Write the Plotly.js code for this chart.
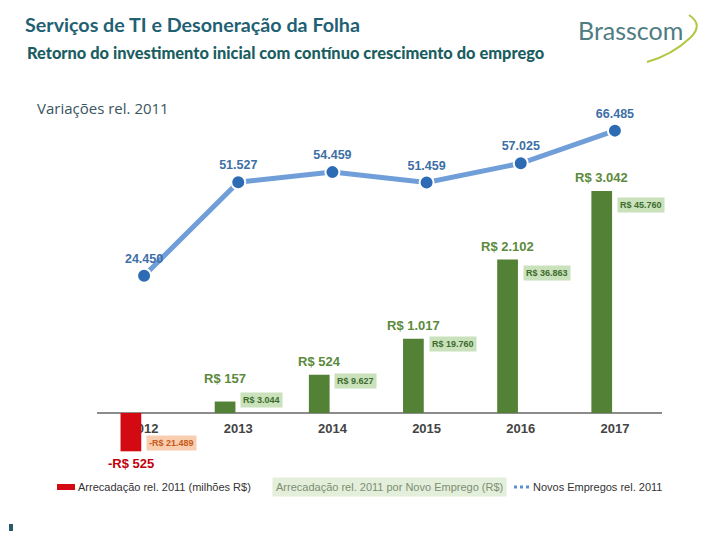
<!DOCTYPE html>
<html><head><meta charset="utf-8">
<script src="https://cdn.plot.ly/plotly-3.0.1.min.js"></script>
<style>html,body{margin:0;padding:0;background:#fff}#c{width:720px;height:540px}</style>
</head><body><div id="c"></div>
<script>
const years = ['2012','2013','2014','2015','2016','2017'];
const revenue = [-525, 157, 524, 1017, 2102, 3042];          // Arrecadação rel. 2011 (milhões R$)
const perJob = [-21489, 3044, 9627, 19760, 36863, 45760];    // Arrecadação por Novo Emprego (R$)
const jobs = [24450, 51527, 54459, 51459, 57025, 66485];     // Novos Empregos rel. 2011

const fmt = v => (v < 0 ? '-' : '') + String(Math.abs(v)).replace(/\B(?=(\d{3})+(?!\d))/g, '.');

// plot area geometry (pixels) for paper conversions
const L = 97, R = 662, T = 110, B = 470;
const px = x => (x - L) / (R - L);
const py = y => (B - y) / (B - T);

const barColors = revenue.map(v => v < 0 ? '#d40a12' : '#538135');

const traces = [
  {
    type: 'bar', x: years, y: revenue, width: 0.22, offset: -0.25,
    marker: {color: barColors}, yaxis: 'y', hoverinfo: 'skip', showlegend: false
  },
  {
    type: 'scatter', mode: 'lines+markers+text', x: years, y: jobs, yaxis: 'y2',
    text: jobs.map(fmt), textposition: 'top center',
    textfont: {family: 'Liberation Sans, Arial, sans-serif', size: 12.5, color: '#3d6fa6', weight: 'bold'},
    line: {color: '#6f9ed8', width: 5},
    marker: {color: '#2d6cb4', size: 14, line: {color: '#ffffff', width: 2}},
    hoverinfo: 'skip', showlegend: false, cliponaxis: false
  }
];

const annotations = [];
const barShiftY = [0, 14, 4, 4, 4, 4];
revenue.forEach((v, i) => {
  annotations.push({
    x: i, y: v, xref: 'x', yref: 'y', xshift: -13,
    yanchor: v < 0 ? 'top' : 'bottom', yshift: v < 0 ? -3 : barShiftY[i],
    text: (v < 0 ? '-R$ ' : 'R$ ') + fmt(Math.abs(v)), showarrow: false,
    font: {family: 'Liberation Sans, Arial, sans-serif', size: 13, weight: 'bold', color: v < 0 ? '#c0000a' : '#5c8a3c'}
  });
});
const badgeShiftY = [8, 2, -6, -5, -13, -14];
perJob.forEach((v, i) => {
  const neg = v < 0;
  annotations.push({
    x: i, y: revenue[i], xref: 'x', yref: 'y', xanchor: 'left', xshift: 2,
    yanchor: 'middle', yshift: badgeShiftY[i],
    text: (neg ? '-R$ ' : 'R$ ') + fmt(Math.abs(v)), showarrow: false,
    bgcolor: neg ? '#f9cdb0' : '#c9e2bb', borderpad: 2,
    font: {family: 'Liberation Sans, Arial, sans-serif', size: 9, weight: 'bold', color: neg ? '#c65a1a' : '#3e6b2e'}
  });
});

// headings
annotations.push(
  {xref: 'paper', yref: 'paper', x: px(25), y: py(53), xanchor: 'left', yanchor: 'middle', showarrow: false,
   text: 'Retorno do investimento inicial com contínuo crescimento do emprego',
   font: {family: 'Lato, sans-serif', size: 16.4, weight: 900, color: '#1b5e62'}},
  {xref: 'paper', yref: 'paper', x: px(576), y: py(30), xanchor: 'left', yanchor: 'middle', showarrow: false,
   text: 'Brasscom', font: {family: 'Lato, sans-serif', size: 25, color: '#4f7c82'}},
  {xref: 'paper', yref: 'paper', x: px(35), y: py(108), xanchor: 'left', yanchor: 'middle', showarrow: false,
   text: 'Variações rel. 2011', font: {family: 'Open Sans, sans-serif', size: 15, color: '#3a5560'}},
  // legend
  {xref: 'paper', yref: 'paper', x: px(76), y: py(487), xanchor: 'left', yanchor: 'middle', showarrow: false,
   text: 'Arrecadação rel. 2011 (milhões R$)', font: {family: 'Liberation Sans, Arial, sans-serif', size: 11, color: '#333333'}},
  {xref: 'paper', yref: 'paper', x: px(272), y: py(487), xanchor: 'left', yanchor: 'middle', showarrow: false,
   text: 'Arrecadação rel. 2011 por Novo Emprego (R$)', bgcolor: '#e3eedb', borderpad: 3,
   font: {family: 'Liberation Sans, Arial, sans-serif', size: 11, color: '#7c8f72'}},
  {xref: 'paper', yref: 'paper', x: px(531), y: py(487), xanchor: 'left', yanchor: 'middle', showarrow: false,
   text: 'Novos Empregos rel. 2011', font: {family: 'Liberation Sans, Arial, sans-serif', size: 11, color: '#333333'}}
);

const shapes = [
  {type: 'rect', xref: 'paper', yref: 'paper', x0: px(57), x1: px(75), y0: py(490), y1: py(484), fillcolor: '#d40a12', line: {width: 0}},
  {type: 'line', xref: 'paper', yref: 'paper', x0: px(514), x1: px(530), y0: py(487), y1: py(487), line: {color: '#5b8fd0', width: 3, dash: 'dot'}},
  {type: 'path', xref: 'paper', yref: 'paper',
   path: `M ${px(689)} ${py(15)} Q ${px(704)} ${py(25)} ${px(690)} ${py(38)} Q ${px(672)} ${py(55)} ${px(647)} ${py(62)}`,
   line: {color: '#b3c640', width: 2}},
  {type: 'rect', xref: 'paper', yref: 'paper', x0: px(9), x1: px(13), y0: py(531), y1: py(524), fillcolor: '#2a5a6a', line: {width: 0}}
];

const layout = {
  width: 720, height: 540,
  margin: {l: L, r: 720 - R, t: T, b: 540 - B},
  paper_bgcolor: '#ffffff', plot_bgcolor: '#ffffff',
  title: {text: 'Serviços de TI e Desoneração da Folha', x: 25 / 720, xanchor: 'left', xref: 'container',
          y: 1 - 25 / 540, yref: 'container', yanchor: 'middle',
          font: {family: 'Lato, sans-serif', size: 19.7, weight: 'bold', color: '#1f6173'}},
  xaxis: {type: 'category', range: [-0.5, 5.5], autorange: false, showgrid: false, showline: false, ticks: '',
          anchor: 'free', position: py(413), ticklabelstandoff: 6, layer: 'below traces',
          tickfont: {family: 'Liberation Sans, Arial, sans-serif', size: 13, weight: 'bold', color: '#444444'}},
  yaxis: {range: [-781, 4151], autorange: false, showgrid: false, showticklabels: false, zeroline: true,
          zerolinecolor: '#8c8c8c', zerolinewidth: 2},
  yaxis2: {range: [-31884, 72464], autorange: false, overlaying: 'y', side: 'right', showgrid: false,
           showticklabels: false, zeroline: false},
  showlegend: false,
  annotations, shapes
};

Plotly.newPlot('c', traces, layout, {displayModeBar: false, staticPlot: true});
</script></body></html>
